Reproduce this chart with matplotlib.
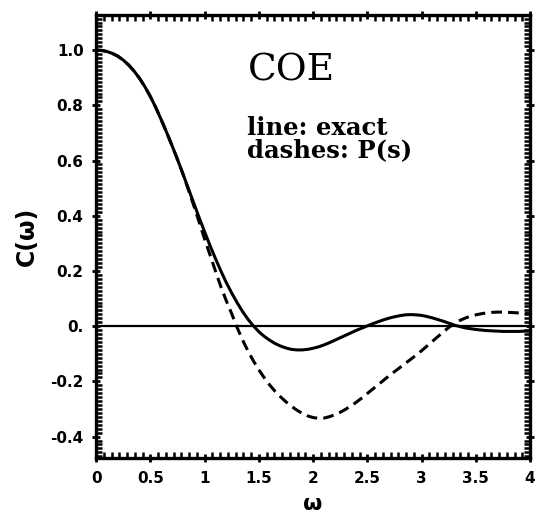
import numpy as np
import matplotlib
matplotlib.use("Agg")
import matplotlib.pyplot as plt
from matplotlib.ticker import MultipleLocator

# -----------------------------
# Data (every 0.05 in omega)
# -----------------------------
omega = [0.00, 0.05, 0.10, 0.15, 0.20, 0.25, 0.30, 0.35, 0.40, 0.45,
         0.50, 0.55, 0.60, 0.65, 0.70, 0.75, 0.80, 0.85, 0.90, 0.95,
         1.00, 1.05, 1.10, 1.15, 1.20, 1.25, 1.30, 1.35, 1.40, 1.45,
         1.50, 1.55, 1.60, 1.65, 1.70, 1.75, 1.80, 1.85, 1.90, 1.95,
         2.00, 2.05, 2.10, 2.15, 2.20, 2.25, 2.30, 2.35, 2.40, 2.45,
         2.50, 2.55, 2.60, 2.65, 2.70, 2.75, 2.80, 2.85, 2.90, 2.95,
         3.00, 3.05, 3.10, 3.15, 3.20, 3.25, 3.30, 3.35, 3.40, 3.45,
         3.50, 3.55, 3.60, 3.65, 3.70, 3.75, 3.80, 3.85, 3.90, 3.95,
         4.00]

# solid line: exact
c_exact = [1.000, 0.999, 0.995, 0.988, 0.978, 0.964, 0.946, 0.924, 0.898, 0.867,
           0.832, 0.792, 0.748, 0.702, 0.654, 0.604, 0.552, 0.499, 0.446, 0.393,
           0.342, 0.292, 0.245, 0.200, 0.158, 0.120, 0.085, 0.053, 0.025, 0.001,
           -0.020, -0.037, -0.051, -0.063, -0.072, -0.079, -0.084, -0.086, -0.086, -0.084,
           -0.080, -0.075, -0.068, -0.060, -0.051, -0.042, -0.033, -0.024, -0.015, -0.007,
           0.001, 0.009, 0.016, 0.023, 0.029, 0.034, 0.038, 0.041, 0.042, 0.041,
           0.039, 0.035, 0.030, 0.024, 0.018, 0.011, 0.004, -0.001, -0.006, -0.009,
           -0.012, -0.014, -0.016, -0.017, -0.018, -0.019, -0.019, -0.019, -0.019, -0.018,
           -0.018]

# dashes: from P(s)
c_ps = [1.000, 0.999, 0.995, 0.988, 0.978, 0.964, 0.946, 0.924, 0.898, 0.867,
        0.832, 0.792, 0.748, 0.702, 0.654, 0.604, 0.552, 0.495, 0.437, 0.377,
        0.316, 0.258, 0.200, 0.143, 0.092, 0.045, -0.005, -0.050, -0.090, -0.126,
        -0.158, -0.187, -0.213, -0.236, -0.256, -0.274, -0.290, -0.304, -0.316, -0.325,
        -0.331, -0.334, -0.333, -0.328, -0.321, -0.312, -0.301, -0.289, -0.275, -0.260,
        -0.244, -0.228, -0.212, -0.196, -0.180, -0.165, -0.150, -0.135, -0.120, -0.105,
        -0.089, -0.072, -0.055, -0.038, -0.021, -0.005, 0.009, 0.020, 0.029, 0.036,
        0.041, 0.045, 0.048, 0.050, 0.051, 0.051, 0.050, 0.049, 0.048, 0.046,
        0.045]

x_ticks = [0, 0.5, 1, 1.5, 2, 2.5, 3, 3.5, 4]
x_ticklabels = ["0", "0.5", "1", "1.5", "2", "2.5", "3", "3.5", "4"]
y_ticks = [-0.4, -0.2, 0.0, 0.2, 0.4, 0.6, 0.8, 1.0]
y_ticklabels = ["-0.4", "-0.2", "0.", "0.2", "0.4", "0.6", "0.8", "1.0"]

# -----------------------------
# Plot
# -----------------------------
fig = plt.figure(figsize=(5.37, 5.2), dpi=100)
ax = fig.add_axes([0.179, 0.119, 0.808, 0.852])

ax.plot(omega, c_exact, color="black", lw=2.2, solid_capstyle="round",
        solid_joinstyle="round")
ax.plot(omega, c_ps, color="black", lw=2.2, linestyle=(0, (3.5, 2.0)))
ax.axhline(0.0, color="black", lw=1.6)

ax.set_xlim(0, 4)
ax.set_ylim(-0.478, 1.127)

ax.set_xticks(x_ticks)
ax.set_xticklabels(x_ticklabels)
ax.set_yticks(y_ticks)
ax.set_yticklabels(y_ticklabels)
ax.xaxis.set_minor_locator(MultipleLocator(0.5 / 7))
ax.yaxis.set_minor_locator(MultipleLocator(0.2 / 14))

ax.tick_params(which="major", direction="inout", length=6, width=2,
               top=True, right=True, labelsize=11, pad=6)
ax.tick_params(which="minor", direction="in", length=4, width=1.8,
               top=True, right=True)
for lab in ax.get_xticklabels() + ax.get_yticklabels():
    lab.set_fontweight("heavy")

for sp in ax.spines.values():
    sp.set_linewidth(2.4)

ax.set_xlabel("ω", fontsize=16, fontweight="bold", labelpad=6)
ax.set_ylabel("C(ω)", fontsize=17, fontweight="bold", labelpad=8)

ax.text(1.40, 0.891, "COE", fontsize=27, family="DejaVu Serif",
        ha="left", va="baseline")
ax.text(1.39, 0.692, "line: exact", fontsize=17.5, family="DejaVu Serif",
        fontweight="bold", ha="left", va="baseline")
ax.text(1.39, 0.612, "dashes: P(s)", fontsize=17.5, family="DejaVu Serif",
        fontweight="bold", ha="left", va="baseline")

fig.savefig("out.png", dpi=100)
